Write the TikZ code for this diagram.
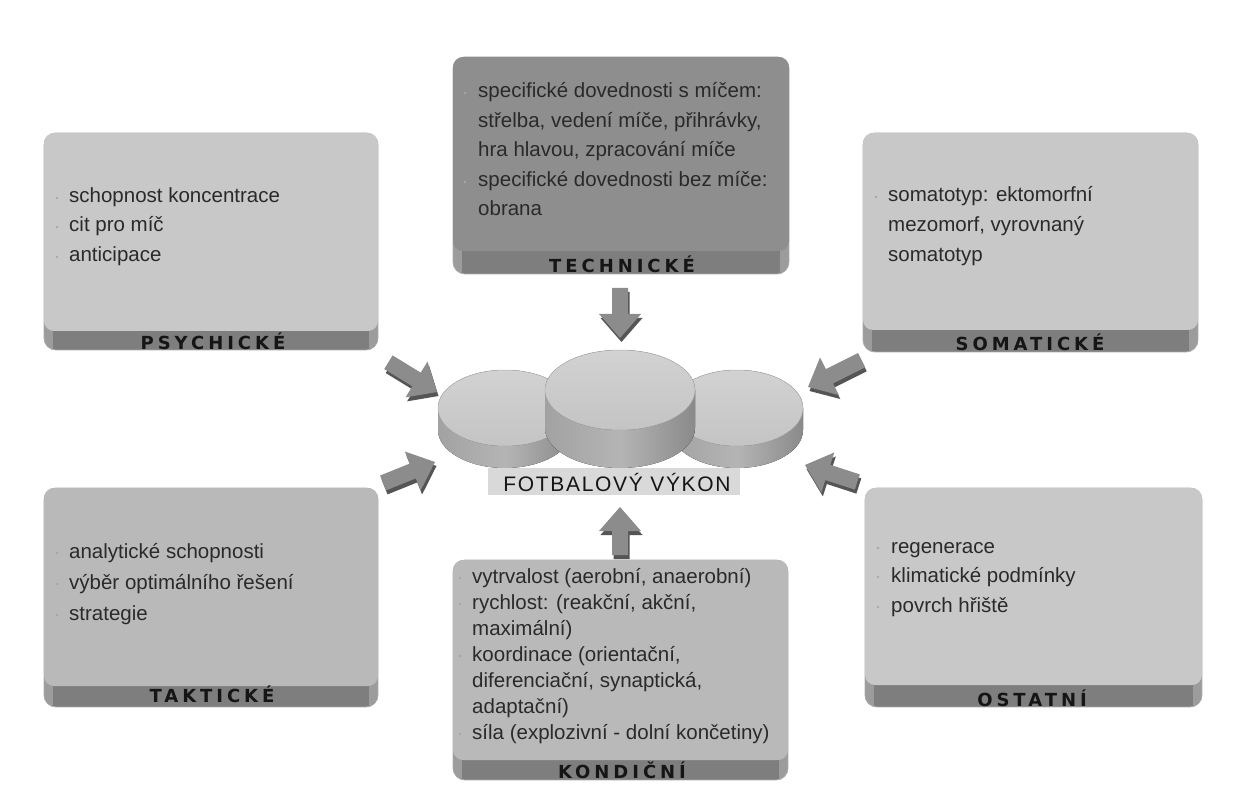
\documentclass[tikz,border=0pt]{standalone}
\usepackage{fontspec}
\setmainfont{Liberation Sans}
\newfontfamily\lblfont{DejaVu Sans Bold}[LetterSpace=22]
\newfontfamily\titlefont{Liberation Sans}[LetterSpace=8]
\definecolor{facec}{HTML}{C8C8C8}
\definecolor{facedark}{HTML}{8E8E8E}
\definecolor{facemid}{HTML}{B9B9B9}
\definecolor{bandc}{HTML}{7E7E7E}
\definecolor{bandside}{HTML}{9C9C9C}
\definecolor{edgec}{HTML}{AAAAAA}
\definecolor{textc}{HTML}{2A2A2A}
\definecolor{lblc}{HTML}{151515}
\definecolor{arrowc}{HTML}{8C8C8C}
\definecolor{arrowdark}{HTML}{555555}
\definecolor{disctop}{HTML}{D2D2D2}
\definecolor{disctop2}{HTML}{C4C4C4}
\definecolor{discside}{HTML}{A2A2A2}
\definecolor{discside2}{HTML}{8A8A8A}
\definecolor{titlebg}{HTML}{D9D9D9}
\tikzset{
  txt/.style={anchor=base west, inner sep=0pt, text=textc, font=\fontsize{20.5}{24}\selectfont},
  lbl/.style={anchor=center, inner sep=0pt, text=lblc, font=\lblfont\fontsize{18}{20}\selectfont},
  bul/.style={fill=gray!70},
}
% panel: x1 y1 x2 y2 bandtop facecolor  (image coordinates, y down)
\newcommand{\panel}[6]{%
  \begin{scope}
    \clip[rounded corners=12pt] (#1,-#2) rectangle (#3,-#4);
    \fill[bandc] (#1,-#2) rectangle (#3,-#4);
    \fill[bandside] (#1,-#2) rectangle ({#1+9},-#4);
    \fill[bandside] ({#3-9},-#2) rectangle (#3,-#4);
  \end{scope}
  \draw[edgec, line width=0.8pt, rounded corners=12pt] (#1,-#2) rectangle (#3,-#4);
  \fill[#6, rounded corners=10pt] (#1,-#2) rectangle (#3,{-(#5)-3});
  \fill[#6] ({#1+6},{-(#5)+8}) rectangle ({#3-6},-#5);
}
% disc: cx cy rx ry h (image coords)
\newcommand{\disc}[5]{%
  \fill[left color=discside, right color=discside2, middle color=discside!80!white]
    ({#1-#3},-#2) -- ({#1-#3},{-#2-#5}) arc[start angle=180,end angle=360,x radius=#3,y radius=#4]
    -- ({#1+#3},-#2) arc[start angle=0,end angle=-180,x radius=#3,y radius=#4] -- cycle;
  \fill[top color=disctop, bottom color=disctop2, draw=gray!60, line width=0.5pt] (#1,-#2) ellipse[x radius=#3, y radius=#4];
}
% block arrow: tip x, tip y (image coords), visual angle, length
\newcommand{\barrow}[4]{%
  \fill[arrowdark, shift={(#1+1.5,-#2-4)}, rotate=#3]
    (0,0) -- (-24,21) -- (-24,8) -- (-#4,8) -- (-#4,-8) -- (-24,-8) -- (-24,-21) -- cycle;
  \fill[arrowc, shift={(#1,-#2)}, rotate=#3]
    (0,0) -- (-24,21) -- (-24,8) -- (-#4,8) -- (-#4,-8) -- (-24,-8) -- (-24,-21) -- cycle;
}
\begin{document}
\begin{tikzpicture}[x=1pt,y=1pt]
\useasboundingbox (0,0) rectangle (1253,-802);
\fill[white] (0,0) rectangle (1253,-802);

% panels
\panel{44}{133}{378}{350}{328}{facec}
\panel{453}{57}{789}{274}{248}{facedark}
\panel{863}{133}{1198}{352}{327}{facec}
\panel{44}{488}{378}{707}{683}{facemid}
\panel{453}{560}{788}{780}{757}{facemid}
\panel{865}{488}{1202}{707}{682}{facec}

% labels
\node[lbl] (lpsy) at (213,-341) {PSYCHICKÉ};
\node[lbl] (ltech) at (622,-264) {TECHNICKÉ};
\node[lbl] (lsoma) at (1030,-342) {SOMATICKÉ};
\node[lbl] (ltakt) at (212,-694) {TAKTICKÉ};
\node[lbl] (lkond) at (622,-770) {KONDIČNÍ};
\node[lbl] (lost) at (1032,-698) {OSTATNÍ};

% psychicke
\fill[bul] (57,-198) circle (1.3);
\fill[bul] (57,-227) circle (1.3);
\fill[bul] (57,-257) circle (1.3);
\node[txt] (p1) at (69,-203) {schopnost koncentrace};
\node[txt] (p2) at (69,-232) {cit pro míč};
\node[txt] (p3) at (69,-262) {anticipace};

% technicke
\fill[bul] (465,-93) circle (1.3);
\fill[bul] (465,-182) circle (1.3);
\node[txt] (t1) at (478,-98) {specifické dovednosti s míčem:};
\node[txt] (t2) at (478,-127.5) {střelba, vedení míče, přihrávky,};
\node[txt] (t3) at (478,-157) {hra hlavou, zpracování míče};
\node[txt] (t4) at (478,-186.5) {specifické dovednosti bez míče:};
\node[txt] (t5) at (478,-216) {obrana};

% somaticke
\fill[bul] (876,-197) circle (1.3);
\node[txt] (s1) at (888,-202) {somatotyp: ektomorfní};
\node[txt] (s2) at (888,-232) {mezomorf, vyrovnaný};
\node[txt] (s3) at (888,-262) {somatotyp};

% takticke
\fill[bul] (57,-553) circle (1.3);
\fill[bul] (57,-584) circle (1.3);
\fill[bul] (57,-615) circle (1.3);
\node[txt] (k1) at (69,-558) {analytické schopnosti};
\node[txt] (k2) at (69,-589) {výběr optimálního řešení};
\node[txt] (k3) at (69,-620) {strategie};

% kondicni
\fill[bul] (460,-578) circle (1.3);
\fill[bul] (460,-604) circle (1.3);
\fill[bul] (460,-656) circle (1.3);
\fill[bul] (460,-734) circle (1.3);
\node[txt] (c1) at (472,-583) {vytrvalost (aerobní, anaerobní)};
\node[txt] (c2) at (472,-609) {rychlost: (reakční, akční,};
\node[txt] (c3) at (472,-635) {maximální)};
\node[txt] (c4) at (472,-661) {koordinace (orientační,};
\node[txt] (c5) at (472,-687) {diferenciační, synaptická,};
\node[txt] (c6) at (472,-713) {adaptační)};
\node[txt] (c7) at (472,-739) {síla (explozivní - dolní končetiny)};

% ostatni
\fill[bul] (878,-548) circle (1.3);
\fill[bul] (878,-577) circle (1.3);
\fill[bul] (878,-607) circle (1.3);
\node[txt] (o1) at (891,-553) {regenerace};
\node[txt] (o2) at (891,-582) {klimatické podmínky};
\node[txt] (o3) at (891,-612) {povrch hřiště};

% discs
\disc{505}{408}{67}{38}{22}
\disc{737}{408}{66}{38}{22}
\disc{620}{390}{75}{40}{38}

% title
\fill[titlebg] (488,-468) rectangle (740,-495);
\node[inner sep=0pt, text=lblc, font=\titlefont\fontsize{21}{24}\selectfont] (title) at (617,-482) {FOTBALOVÝ VÝKON};

% arrows
\barrow{620}{338}{-90}{50}
\barrow{620}{507}{90}{48}
\barrow{437}{392}{-31.5}{57}
\barrow{435}{462}{22}{56}
\barrow{808}{387}{-153.4}{60}
\barrow{805}{465}{162}{55}
\end{tikzpicture}
\end{document}
